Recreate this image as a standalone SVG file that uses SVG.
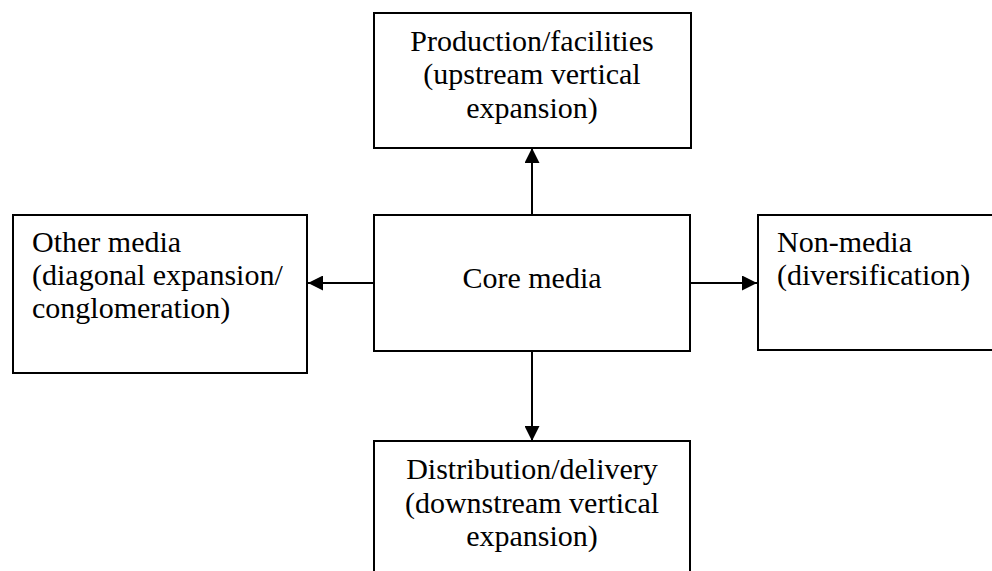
<svg xmlns="http://www.w3.org/2000/svg" width="992" height="571" viewBox="0 0 992 571">
<style>
.box{fill:#fff;stroke:#000;stroke-width:2}
.t{font-family:"Liberation Serif","Times New Roman",serif;font-size:30px;fill:#000}
.c{text-anchor:middle}
.ln{stroke:#000;stroke-width:2;fill:none}
</style>
<defs>
<marker id="ah" markerWidth="15" markerHeight="15" refX="15" refY="7.5" orient="auto" markerUnits="userSpaceOnUse">
<path d="M0,0 L15,7.5 L0,15 Z" fill="#000"/>
</marker>
</defs>
<rect width="992" height="571" fill="#fff"/>
<g id="connectors">
<line class="ln" x1="532" y1="215" x2="532" y2="148" marker-end="url(#ah)"/>
<line class="ln" x1="374" y1="283" x2="308" y2="283" marker-end="url(#ah)"/>
<line class="ln" x1="690" y1="283" x2="757" y2="283" marker-end="url(#ah)"/>
<line class="ln" x1="532" y1="351" x2="532" y2="441" marker-end="url(#ah)"/>
</g>
<g id="production">
<rect class="box" x="374" y="13" width="317" height="135"/>
<text class="t c" x="532" y="50.5">Production/facilities</text>
<text class="t c" x="532" y="84">(upstream vertical</text>
<text class="t c" x="532" y="117.5">expansion)</text>
</g>
<g id="core">
<rect class="box" x="374" y="215" width="316" height="136"/>
<text class="t c" x="532" y="288">Core media</text>
</g>
<g id="other">
<rect class="box" x="13" y="215" width="294" height="158"/>
<text class="t" x="32" y="251.5">Other media</text>
<text class="t" x="32" y="285">(diagonal expansion/</text>
<text class="t" x="32" y="318">conglomeration)</text>
</g>
<g id="nonmedia">
<rect class="box" x="758" y="215" width="240" height="135"/>
<text class="t" x="777" y="251.5">Non-media</text>
<text class="t" x="777" y="285">(diversification)</text>
</g>
<g id="distribution">
<rect class="box" x="374" y="441" width="316" height="140"/>
<text class="t c" x="532" y="479">Distribution/delivery</text>
<text class="t c" x="532" y="512.5">(downstream vertical</text>
<text class="t c" x="532" y="546">expansion)</text>
</g>
</svg>
